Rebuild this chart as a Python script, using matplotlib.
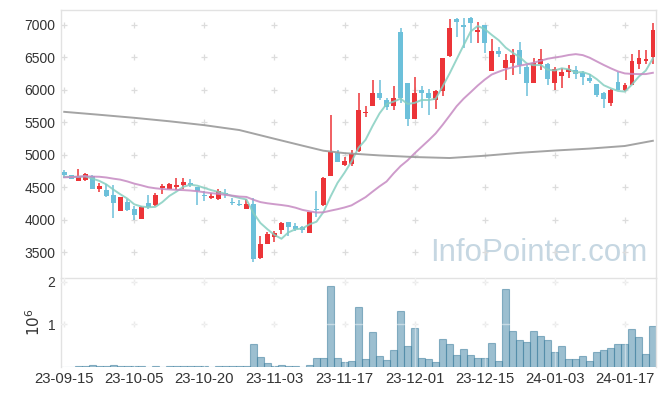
import matplotlib
matplotlib.use('Agg')
from matplotlib import pyplot as plt
import numpy as np
import pandas as pd

# daily prices, 2023-09-15 .. 2024-01-23 (85 trading days)
opens = [4730, 4685, 4600, 4612, 4680, 4475, 4460, 4375, 4140, 4275,
         4165, 4015, 4255, 4235, 4485, 4480, 4505, 4530, 4570, 4500,
         4385, 4340, 4320, 4405, 4275, 4245, 4168, 4245, 3410, 3630,
         3733, 3840, 3963, 3900, 3890, 3800, 4172, 4230, 4675, 5030,
         4842, 4860, 5057, 5640, 5747, 5957, 5845, 5747, 6893, 6105,
         5548, 5998, 5952, 5845, 5977, 6515, 7090, 6995, 7100, 6882,
         6995, 6290, 6590, 6340, 6417, 6605, 6356, 6110, 6392, 6400,
         6100, 6218, 6275, 6300, 6253, 6177, 6095, 5957, 5793, 6126,
         5993, 6075, 6392, 6443, 6504]
highs = [4770, 4695, 4775, 4725, 4695, 4570, 4545, 4535, 4350, 4315,
         4215, 4205, 4375, 4410, 4545, 4570, 4645, 4650, 4630, 4510,
         4440, 4410, 4470, 4480, 4335, 4305, 4315, 4335, 3745, 3820,
         3830, 3960, 3970, 3950, 3905, 4125, 4450, 4663, 5615, 5080,
         4970, 5070, 5950, 5745, 6155, 6155, 5870, 6055, 6945, 6105,
         6195, 6050, 6015, 6000, 6495, 7090, 7095, 7105, 7120, 7035,
         6995, 6785, 6660, 6555, 6620, 6730, 6380, 6495, 6630, 6405,
         6350, 6330, 6380, 6365, 6290, 6240, 6095, 5960, 6005, 6275,
         6110, 6545, 6615, 6605, 7030]
lows = [4640, 4620, 4595, 4590, 4470, 4435, 4357, 4025, 4130, 4135,
        4000, 4010, 4165, 4220, 4395, 4470, 4460, 4470, 4510, 4225,
        4285, 4320, 4310, 4340, 4225, 4215, 4160, 3345, 3405, 3625,
        3665, 3785, 3750, 3830, 3795, 3800, 4050, 4220, 4670, 4885,
        4835, 4830, 5050, 5585, 5745, 5840, 5695, 5685, 5790, 5445,
        5545, 5725, 5615, 5700, 5905, 6510, 6810, 6645, 6720, 6720,
        6565, 6285, 6505, 6145, 6225, 6240, 5905, 6105, 6310, 6075,
        6000, 6025, 6175, 6170, 6070, 6110, 5890, 5715, 5750, 5990,
        5980, 6070, 6315, 6400, 6400]
closes = [4690, 4635, 4655, 4710, 4480, 4515, 4365, 4260, 4345, 4150,
          4070, 4200, 4200, 4375, 4515, 4545, 4530, 4575, 4535, 4440,
          4370, 4360, 4440, 4390, 4260, 4230, 4245, 3395, 3625, 3780,
          3795, 3948, 3891, 3860, 3840, 4115, 4148, 4640, 5040, 4895,
          4898, 5010, 5695, 5650, 5957, 5870, 5727, 5880, 5880, 5548,
          5952, 5947, 5880, 5977, 6494, 6955, 7036, 6960, 7025, 6923,
          6720, 6590, 6550, 6453, 6530, 6381, 6110, 6407, 6478, 6162,
          6320, 6280, 6325, 6240, 6192, 6136, 5916, 5860, 6003, 5993,
          6080, 6448, 6484, 6468, 6923]
volumes = [0, 0, 24000, 24000, 47000, 24000, 24000, 47000, 24000, 24000,
           24000, 24000, 0, 24000, 0, 24000, 24000, 24000, 24000, 24000,
           24000, 0, 24000, 24000, 24000, 24000, 24000, 533000, 227000, 78000,
           16000, 39000, 16000, 16000, 0, 39000, 204000, 204000, 1890000, 204000,
           110000, 133000, 1404000, 173000, 808000, 251000, 157000, 384000, 1310000, 486000,
           910000, 204000, 173000, 102000, 651000, 525000, 275000, 416000, 275000, 204000,
           204000, 557000, 133000, 1820000, 839000, 627000, 580000, 839000, 722000, 627000,
           345000, 486000, 180000, 180000, 251000, 133000, 345000, 392000, 439000, 533000,
           533000, 886000, 698000, 290000, 957000]

# closes before the first shown day (only feed the moving averages)
prior_closes = [4550, 4520, 4580, 4600, 4560, 4590, 4620, 4650, 4700, 4750,
                4720, 4780, 4700, 4740, 4690, 4640, 4660, 4670, 4650]

# long moving average
long_ma_day = [0, 5, 10, 15, 20, 25, 30, 34, 37, 40, 45, 50, 55, 60, 65, 70, 75, 80, 84]
long_ma_val = [5660, 5615, 5568, 5515, 5455, 5380, 5246, 5140, 5062, 5025,
               4990, 4965, 4950, 4985, 5030, 5065, 5095, 5135, 5215]

tick_days = [0, 10, 20, 30, 40, 50, 60, 70, 80]
tick_labels = ['23-09-15', '23-10-05', '23-10-20', '23-11-03', '23-11-17',
               '23-12-01', '23-12-15', '24-01-03', '24-01-17']

UP = '#ec3438'
DOWN = '#6cc0da'

plt.rcParams['font.family'] = ['Liberation Sans', 'DejaVu Sans']

n = len(closes)
x = np.arange(n)
o = np.array(opens, float)
c = np.array(closes, float)
up = c >= o
colors = [UP if u else DOWN for u in up]

all_close = pd.Series(prior_closes + closes, dtype=float)
ma5 = all_close.rolling(5).mean().values[len(prior_closes):]
ma20 = all_close.rolling(20).mean().values[len(prior_closes):]

fig = plt.figure(figsize=(6.65, 3.96), dpi=100)
ax = fig.add_axes([0.0913, 0.2987, 0.8957, 0.6768])
axv = fig.add_axes([0.0913, 0.074, 0.8957, 0.2247], sharex=ax)

# watermark
ax.text(0.985, 0.035, 'InfoPointer.com', transform=ax.transAxes, ha='right', va='bottom',
        fontsize=22.5, color='#c6d7e2', zorder=0)

# candles
body_lo = np.minimum(o, c)
body_h = np.maximum(np.abs(c - o), 12)
ax.vlines(x, lows, highs, colors=colors, linewidth=1.1, zorder=2)
ax.bar(x, body_h, bottom=body_lo, width=0.66, color=colors, linewidth=0, zorder=3)

# moving averages
ax.plot(x, ma5, color='#86cfc1', lw=1.4, alpha=0.85, zorder=4)
ax.plot(x, ma20, color='#c68ac2', lw=1.4, alpha=0.85, zorder=4)
ax.plot(long_ma_day, long_ma_val, color='#9a9a9a', lw=1.4, alpha=0.9, zorder=4)

ax.set_xlim(-0.5, n - 0.5)
ax.set_ylim(3110, 7230)
ax.set_yticks([3500, 4000, 4500, 5000, 5500, 6000, 6500, 7000])

# volume
vol = np.array(volumes) / 1e6
axv.bar(x, vol, width=1.0, color='#4b8caa', alpha=0.55, edgecolor='#3f7f9f',
        linewidth=0.8, zorder=2)
axv.set_ylim(0, 2.094)
axv.set_yticks([1, 2])
axv.set_yticklabels(['1', '2'])
axv.set_ylabel(r'$10^6$', fontsize=11, color='#333333', labelpad=3)
axv.grid(True, color='white', alpha=0.45, linewidth=1)
axv.set_axisbelow(False)

axv.set_xticks(tick_days)
axv.set_xticklabels(tick_labels)

for a in (ax, axv):
    for s in a.spines.values():
        s.set_color('#e2e2e2')
        s.set_linewidth(1)
    a.tick_params(length=0, labelsize=10, colors='#333333', pad=4)
    # "+" marks at grid intersections
    gx, gy = np.meshgrid(tick_days, a.get_yticks())
    a.plot(gx.ravel(), gy.ravel(), '+', color='#dcdcdc', ms=5, mew=0.9, zorder=1)

axv.tick_params(axis='x', labelsize=10.7)
ax.tick_params(labelbottom=False)
axv.spines['bottom'].set_visible(False)
ax.spines['bottom'].set_visible(False)

fig.savefig('out.png', dpi=100)
